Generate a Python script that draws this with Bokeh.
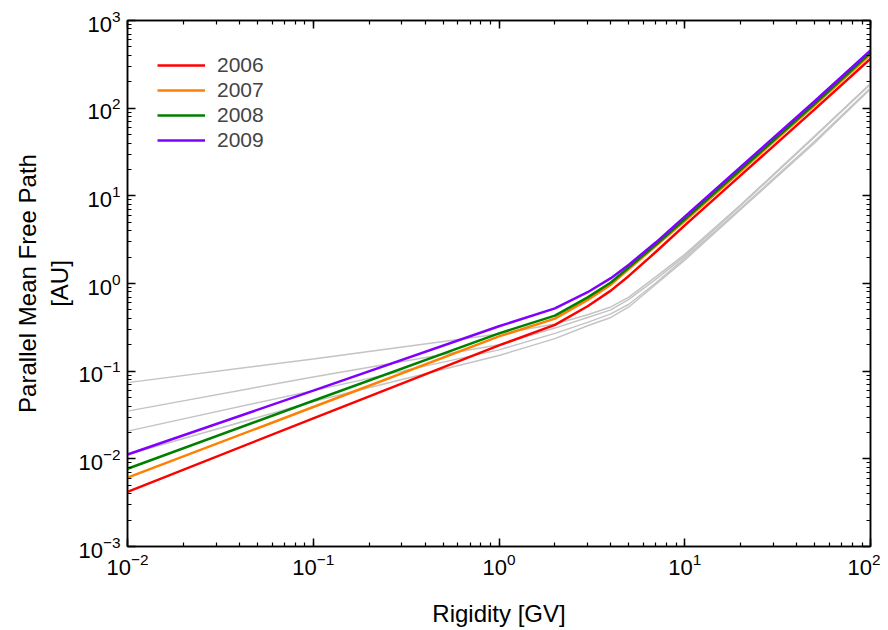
from bokeh.plotting import figure
from bokeh.models import LogAxis, LogTicker, Legend, LegendItem, Title
from bokeh.embed import file_html
from bokeh.resources import INLINE

# Rigidity samples [GV]
rigidity = [0.01, 0.1, 1, 2, 3, 4, 5, 7, 10, 20, 50, 100]

# Parallel mean free path [AU] per year
lam_2006 = [0.0042, 0.029, 0.197, 0.337, 0.55, 0.83, 1.22, 2.30, 4.6, 17.1, 97, 366]
lam_2007 = [0.0061, 0.039, 0.249, 0.397, 0.65, 0.97, 1.46, 2.69, 5.15, 19.1, 108, 409]
lam_2008 = [0.0077, 0.046, 0.27, 0.43, 0.695, 1.025, 1.53, 2.79, 5.4, 20.0, 112, 428]
lam_2009 = [0.0112, 0.060, 0.325, 0.52, 0.795, 1.15, 1.64, 2.95, 5.8, 21.4, 120, 455]

# Grey reference curves
grey_a = [0.074, 0.138, 0.265, 0.345, 0.44, 0.54, 0.70, 1.2, 2.15, 7.9, 48, 191]
grey_b = [0.035, 0.086, 0.20, 0.31, 0.41, 0.50, 0.66, 1.12, 2.05, 7.7, 47, 188]
grey_c = [0.0207, 0.060, 0.175, 0.27, 0.36, 0.45, 0.58, 1.02, 1.95, 7.2, 42, 170]
grey_d = [0.0112, 0.045, 0.151, 0.235, 0.33, 0.41, 0.54, 0.98, 1.85, 7.0, 40, 166]

years = ["2006", "2007", "2008", "2009"]
colors = ["#FF0000", "#FF8000", "#008000", "#8000FF"]
series = [lam_2006, lam_2007, lam_2008, lam_2009]
greys = [grey_a, grey_b, grey_c, grey_d]

FONT = "Liberation Sans"

p = figure(x_axis_type="log", y_axis_type="log",
           x_range=(0.01, 100), y_range=(0.001, 1000),
           frame_width=743, frame_height=526,
           min_border_left=127, min_border_right=10,
           min_border_top=20, min_border_bottom=82,
           output_backend="svg", toolbar_location=None,
           background_fill_color="white", border_fill_color="white")
p.xgrid.visible = False
p.ygrid.visible = False
p.outline_line_color = "black"
p.outline_line_width = 1.5

for g in greys:
    p.line(rigidity, g, line_color="#C4C4C4", line_width=1.5)

renderers = []
for s, c in zip(series, colors):
    renderers.append(p.line(rigidity, s, line_color=c, line_width=2.5))


def style_axis(ax, labels=True):
    ax.ticker = LogTicker(num_minor_ticks=10)
    ax.axis_line_color = "black"
    ax.axis_line_width = 1.5
    ax.major_tick_line_color = "black"
    ax.major_tick_line_width = 1.5
    ax.minor_tick_line_color = "black"
    ax.minor_tick_line_width = 1.2
    ax.major_tick_in = 8
    ax.major_tick_out = 0
    ax.minor_tick_in = 4
    ax.minor_tick_out = 0
    if labels:
        ax.major_label_text_font = FONT
        ax.major_label_text_font_size = "22px"
        ax.major_label_text_color = "black"
        ax.axis_label_text_font = FONT
        ax.axis_label_text_font_size = "24px"
        ax.axis_label_text_font_style = "normal"
        ax.axis_label_text_color = "black"
    else:
        ax.major_label_text_font_size = "1px"
        ax.major_label_text_alpha = 0
        ax.major_label_standoff = 0


xa = p.xaxis[0]
ya = p.yaxis[0]
style_axis(xa)
style_axis(ya)
xa.axis_label = "Rigidity [GV]"
xa.major_label_standoff = 6
ya.major_label_standoff = 7
xa.axis_label_standoff = 22

top = LogAxis()
right = LogAxis()
style_axis(top, labels=False)
style_axis(right, labels=False)
p.add_layout(top, "above")
p.add_layout(right, "right")

for txt, so in [("[AU]", 6), ("Parallel Mean Free Path", 0)]:
    t = Title(text=txt, align="center", text_font=FONT, text_font_size="24px",
              text_font_style="normal", text_color="black", standoff=so)
    p.add_layout(t, "left")

legend = Legend(items=[LegendItem(label=y, renderers=[r]) for y, r in zip(years, renderers)],
                location=(30, 394))
legend.border_line_color = None
legend.background_fill_alpha = 0
legend.label_text_font = FONT
legend.label_text_font_size = "21px"
legend.glyph_width = 48
legend.glyph_height = 20
legend.label_height = 20
legend.label_standoff = 12
legend.spacing = 1
legend.margin = 0
legend.padding = 2
p.add_layout(legend)

open("out.html", "w").write(file_html(p, INLINE))
